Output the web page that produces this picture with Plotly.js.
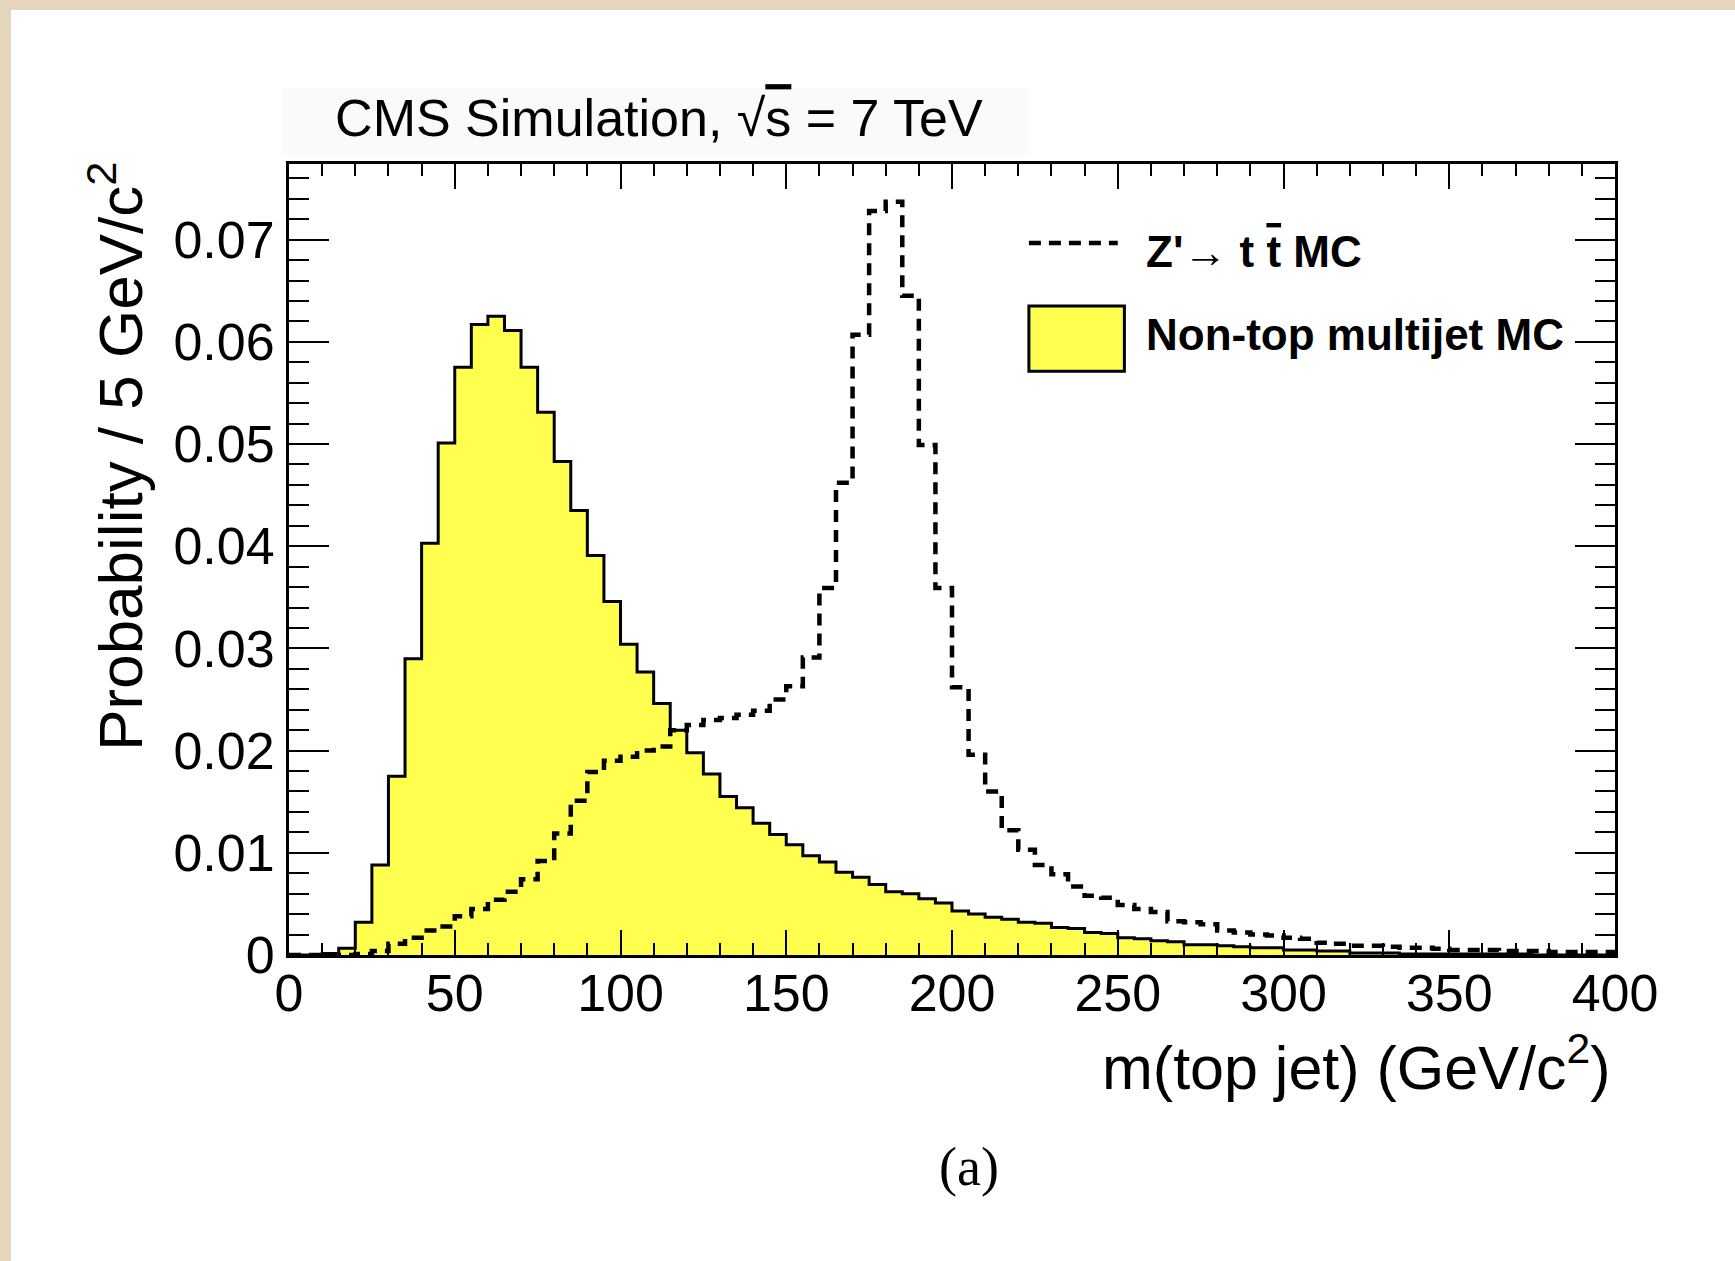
<!DOCTYPE html>
<html>
<head>
<meta charset="utf-8">
<script src="https://cdn.plot.ly/plotly-3.0.1.min.js"></script>
<style>
  html, body { margin: 0; padding: 0; background: #e4d6bd; width: 1735px; height: 1261px; overflow: hidden; }
  #chart { position: absolute; left: 11px; top: 10px; width: 1724px; height: 1251px; background: #ffffff; }
</style>
</head>
<body>
<div id="chart"></div>
<script>
// Bin edges of m(top jet) in GeV/c^2 (5 GeV bins)
const massEdges = [0,5,10,15,20,25,30,35,40,45,50,55,60,65,70,75,80,85,90,95,
  100,105,110,115,120,125,130,135,140,145,150,155,160,165,170,175,180,185,190,195,
  200,205,210,215,220,225,230,235,240,245,250,255,260,265,270,275,280,285,290,295,
  300,305,310,315,320,325,330,335,340,345,350,355,360,365,370,375,380,385,390,395,400];

// Non-top multijet MC (probability per bin)
const nonTopMC = [0, 0, 0.00015, 0.00066, 0.0032, 0.0088, 0.0175, 0.0290, 0.0403, 0.0501,
  0.0575, 0.0617, 0.0625, 0.0611, 0.0575, 0.0531, 0.0483, 0.0435, 0.0391, 0.0346,
  0.0304, 0.0277, 0.0246, 0.0220, 0.0198, 0.0177, 0.0155, 0.0144, 0.0129, 0.0118,
  0.0108, 0.0097, 0.0091, 0.0081, 0.0076, 0.0069, 0.0062, 0.0060, 0.0055, 0.0051,
  0.0043, 0.0040, 0.0037, 0.0035, 0.0032, 0.0031, 0.0027, 0.0026, 0.0022, 0.0021,
  0.0017, 0.0016, 0.0014, 0.0013, 0.0010, 0.0010, 0.0009, 0.0008, 0.0007, 0.0007,
  0.0005, 0.0005, 0.0004, 0.0004, 0.0002, 0.0002, 0.0002, 0.0001, 0.0001, 0.0001,
  0.0001, 0.0001, 0.0001, 0.0001, 0.0001, 0, 0, 0, 0, 0];

// Z' -> t tbar MC (probability per bin)
const zprimeMC = [0, 0, 0, 0, 0.0001, 0.0004, 0.0011, 0.0017, 0.0024, 0.0028,
  0.0038, 0.0045, 0.0054, 0.0062, 0.0074, 0.0092, 0.0119, 0.0151, 0.0179, 0.0190,
  0.0194, 0.0200, 0.0204, 0.0220, 0.0225, 0.0230, 0.0232, 0.0235, 0.0239, 0.0250,
  0.0263, 0.0291, 0.0359, 0.0462, 0.0607, 0.0728, 0.0737, 0.0645, 0.0499, 0.0359,
  0.0262, 0.0196, 0.0160, 0.0122, 0.0103, 0.0088, 0.0079, 0.0067, 0.0058, 0.0056,
  0.0049, 0.0045, 0.0042, 0.0033, 0.0032, 0.0030, 0.0024, 0.0022, 0.0020, 0.0019,
  0.0017, 0.0016, 0.0012, 0.0011, 0.0009, 0.0009, 0.0008, 0.0007, 0.0007, 0.0006,
  0.0005, 0.0005, 0.0005, 0.0004, 0.0004, 0.0004, 0.0003, 0.0003, 0.0003, 0.0003];

const xTickVals = [0, 50, 100, 150, 200, 250, 300, 350, 400];
const yTickVals = [0, 0.01, 0.02, 0.03, 0.04, 0.05, 0.06, 0.07];
const yTickText = ['0', '0.01', '0.02', '0.03', '0.04', '0.05', '0.06', '0.07'];

const legendNames = ["Z'<span style='font-weight:normal'>\u2192</span> t <span style='text-decoration:overline'>t</span> MC", "Non-top multijet MC"];

// step histogram: repeat last value so the last bin is closed at the upper edge
function stepY(vals) { return vals.concat([vals[vals.length - 1]]); }

const FONT = '"Liberation Sans", Arial, Helvetica, sans-serif';

const traces = [
  {
    type: 'scatter', mode: 'lines', name: legendNames[1],
    x: massEdges, y: stepY(nonTopMC),
    line: { shape: 'hv', color: '#000000', width: 3 },
    fill: 'tozeroy', fillcolor: '#ffff50',
    hoverinfo: 'x+y', showlegend: false
  },
  {
    type: 'scatter', mode: 'lines', name: legendNames[0],
    x: massEdges, y: stepY(zprimeMC),
    line: { shape: 'hv', color: '#000000', width: 4.5, dash: '12px,8px' },
    hoverinfo: 'x+y', showlegend: false
  }
];

const layout = {
  width: 1724, height: 1251,
  margin: { l: 278, r: 119.5, t: 154, b: 306, pad: 0 },
  paper_bgcolor: '#ffffff', plot_bgcolor: '#ffffff',
  showlegend: false,
  font: { family: FONT, color: '#000000' },
  title: {
    text: "CMS Simulation, \u221A<span style='text-decoration:overline'>s</span> = 7 TeV",
    font: { family: FONT, size: 52, color: '#000000' },
    xref: 'container', yref: 'container',
    x: 0.188, xanchor: 'left', y: 0.9137, yanchor: 'middle'
  },
  xaxis: {
    range: [0, 400], showgrid: false, zeroline: false,
    showline: true, linecolor: '#000000', linewidth: 3, mirror: 'allticks',
    ticks: 'inside', ticklen: 25, tickwidth: 2, tickcolor: '#000000',
    tickmode: 'array', tickvals: xTickVals,
    minor: { dtick: 10, tick0: 0, ticks: 'inside', ticklen: 12, tickwidth: 2, tickcolor: '#000000', showgrid: false },
    tickfont: { family: FONT, size: 52, color: '#000000' },
    ticklabelstandoff: -9
  },
  yaxis: {
    range: [0, 0.0774], showgrid: false, zeroline: false,
    showline: true, linecolor: '#000000', linewidth: 3, mirror: 'allticks',
    ticks: 'inside', ticklen: 40, tickwidth: 2, tickcolor: '#000000',
    tickmode: 'array', tickvals: yTickVals, ticktext: yTickText,
    minor: { dtick: 0.002, tick0: 0, ticks: 'inside', ticklen: 20, tickwidth: 2, tickcolor: '#000000', showgrid: false },
    tickfont: { family: FONT, size: 52, color: '#000000' },
    ticklabelstandoff: 1
  },
  shapes: [
    // faint box behind the header text
    { type: 'rect', xref: 'paper', yref: 'paper', x0: -0.005, x1: 0.558, y0: 1.0114, y1: 1.096,
      fillcolor: '#fafafa', line: { width: 0 }, layer: 'below' },
    // legend: dashed line sample
    { type: 'line', xref: 'paper', yref: 'paper', x0: 0.558, x1: 0.625, y0: 0.900, y1: 0.900,
      line: { color: '#000000', width: 4.5, dash: '12px,8px' } },
    // legend: yellow box
    { type: 'rect', xref: 'paper', yref: 'paper', x0: 0.558, x1: 0.630, y0: 0.738, y1: 0.8205,
      fillcolor: '#ffff50', line: { color: '#000000', width: 3 } }
  ],
  annotations: [
    { xref: 'paper', yref: 'paper', x: 0.645, y: 0.890, xanchor: 'left', yanchor: 'middle',
      text: '<b>' + legendNames[0] + '</b>', showarrow: false,
      font: { family: FONT, size: 44, color: '#000000' } },
    { xref: 'paper', yref: 'paper', x: 0.645, y: 0.785, xanchor: 'left', yanchor: 'middle',
      text: '<b>' + legendNames[1] + '</b>', showarrow: false,
      font: { family: FONT, size: 44, color: '#000000' } },
    // x-axis title (right aligned, ROOT style)
    { xref: 'paper', yref: 'paper', x: 0.9974, y: -0.136, xanchor: 'right', yanchor: 'middle',
      text: 'm(top jet) (GeV/c<sup>2</sup>)', showarrow: false,
      font: { family: FONT, size: 61, color: '#000000' } },
    // y-axis title (top aligned, ROOT style)
    { xref: 'paper', yref: 'paper', x: -0.131, y: 1.005, xanchor: 'center', yanchor: 'top',
      text: 'Probability / 5 GeV/c<sup>2</sup>', showarrow: false, textangle: -90,
      font: { family: FONT, size: 62, color: '#000000' } },
    // panel label
    { xref: 'paper', yref: 'paper', x: 0.513, y: -0.268, xanchor: 'center', yanchor: 'middle',
      text: '(a)', showarrow: false,
      font: { family: '"Liberation Serif", "Times New Roman", serif', size: 54, color: '#000000' } }
  ]
};

Plotly.newPlot('chart', traces, layout, { displayModeBar: false, staticPlot: true });
</script>
</body>
</html>
